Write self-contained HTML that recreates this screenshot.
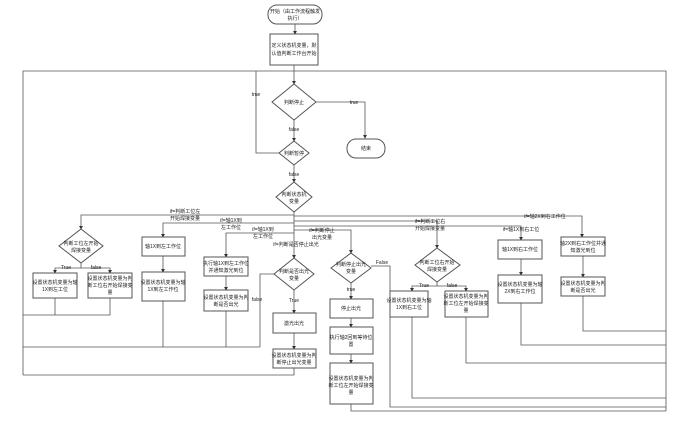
<!DOCTYPE html>
<html><head><meta charset="utf-8"><style>
html,body{margin:0;padding:0;background:#fff;}
svg{display:block;}
text{font-family:"Liberation Sans","Noto Sans CJK SC",sans-serif;font-size:5px;fill:#222;text-anchor:middle;}
.l{fill:none;stroke:#555;stroke-width:0.8;}
.b{fill:#fff;stroke:#555;stroke-width:1;}
</style></head><body>
<svg width="674" height="436" viewBox="0 0 674 436" xmlns="http://www.w3.org/2000/svg">
<defs><marker id="a" markerWidth="5" markerHeight="5" refX="4" refY="2.5" orient="auto"><path d="M0,0 L5,2.5 L0,5z" fill="#333"/></marker></defs>

<!-- top -->
<rect class="b" x="268" y="5" width="54" height="19" rx="9"/>
<text x="295" y="13">开始（由工作流程触发</text><text x="295" y="20">执行）</text>
<line class="l" x1="295" y1="24" x2="295" y2="34" marker-end="url(#a)"/>
<rect class="b" x="270" y="34" width="48" height="31"/>
<text x="294" y="47">定义状态机变量，默</text><text x="294" y="55">认值判断工作台开始</text>
<line class="l" x1="294" y1="65" x2="294" y2="84" marker-end="url(#a)"/>
<polyline class="l" points="23,375 23,71 666,71 666,411"/>
<polyline class="l" points="294,153 256,153 256,71"/>
<text x="256" y="96">true</text>
<polygon class="b" points="294,84 316,102 294,120 272,102"/>
<text x="294" y="104">判断停止</text>
<polyline class="l" points="316,102 365,102 365,138" marker-end="url(#a)"/>
<text x="354" y="104">true</text>
<rect class="b" x="347" y="139" width="38" height="19" rx="9"/>
<text x="366" y="150">结束</text>
<line class="l" x1="294" y1="120" x2="294" y2="141" marker-end="url(#a)"/>
<text x="294" y="131">false</text>
<polygon class="b" points="294,141 309,153 294,165 279,153"/>
<text x="294" y="155">判断暂停</text>
<line class="l" x1="294" y1="165" x2="294" y2="182" marker-end="url(#a)"/>
<text x="294" y="176">false</text>
<polygon class="b" points="294,182 312,197 294,212 276,197"/>
<text x="294" y="196">判断状态机</text><text x="294" y="203">变量</text>
<line class="l" x1="294" y1="212" x2="294" y2="258" marker-end="url(#a)"/>

<!-- branches -->
<polyline class="l" points="294,215 81,215 81,229" marker-end="url(#a)"/>
<text x="185" y="213">if=判断工位左</text><text x="185" y="220">开始焊接变量</text>
<polyline class="l" points="294,223 163,223 163,237" marker-end="url(#a)"/>
<text x="231" y="222">if=轴1X到</text><text x="231" y="229">左工作位</text>
<polyline class="l" points="294,233 226,233 226,257" marker-end="url(#a)"/>
<text x="263" y="231">if=轴1X到</text><text x="263" y="238">左工作位</text>
<text x="296" y="246">if=判断是否停止出光</text>
<polyline class="l" points="294,216 582,216 582,237" marker-end="url(#a)"/>
<text x="545" y="218">if=轴2X到右工作位</text>
<polyline class="l" points="294,221 437,221 437,248" marker-end="url(#a)"/>
<text x="430" y="223">if=判断工位右</text><text x="430" y="230">开始焊接变量</text>
<polyline class="l" points="294,230 351,230 351,253" marker-end="url(#a)"/>
<text x="322" y="232">if=判断停止</text><text x="322" y="239">出光变量</text>
<polyline class="l" points="294,226 521,226 521,240" marker-end="url(#a)"/>
<text x="521" y="231">if=轴1X到右工位</text>

<!-- left group -->
<polygon class="b" points="81,229 103,246 81,263 59,246"/>
<text x="81" y="245">判断工位左开始</text><text x="81" y="252">焊接变量</text>
<polyline class="l" points="81,263 81,268 55,268 55,273" marker-end="url(#a)"/>
<polyline class="l" points="81,268 110,268 110,273" marker-end="url(#a)"/>
<text x="66" y="269">True</text><text x="96" y="269">false</text>
<rect class="b" x="33" y="273" width="44" height="25"/>
<text x="55" y="284">设置状态机变量为轴</text><text x="55" y="291">1X到左工位</text>
<rect class="b" x="88" y="273" width="44" height="25"/>
<text x="110" y="280">设置状态机变量为判</text><text x="110" y="287">断工位右开始焊接变</text><text x="110" y="294">量</text>
<polyline class="l" points="55,298 55,315"/>
<polyline class="l" points="23,315 110,315 110,298"/>

<rect class="b" x="142" y="237" width="43" height="19"/>
<text x="163" y="248">轴1X到左工作位</text>
<line class="l" x1="163" y1="256" x2="163" y2="272" marker-end="url(#a)"/>
<rect class="b" x="142" y="272" width="43" height="29"/>
<text x="163" y="284">设置状态机变量为轴</text><text x="163" y="291">1X到左工作位</text>
<line class="l" x1="163" y1="301" x2="163" y2="347"/>

<rect class="b" x="204" y="257" width="44" height="19"/>
<text x="226" y="265">执行轴1X到左工作位</text><text x="226" y="272">并通知激光到位</text>
<line class="l" x1="226" y1="276" x2="226" y2="290" marker-end="url(#a)"/>
<rect class="b" x="204" y="290" width="44" height="21"/>
<text x="226" y="299">设置状态机变量为判</text><text x="226" y="306">断是否出光</text>
<line class="l" x1="226" y1="311" x2="226" y2="347"/>

<polygon class="b" points="294,258 314,274 294,290 274,274"/>
<text x="294" y="273">判断是否出光</text><text x="294" y="280">变量</text>
<polyline class="l" points="274,274 260,274 260,347"/>
<text x="257" y="301">false</text>
<polyline class="l" points="23,347 260,347"/>
<line class="l" x1="294" y1="290" x2="294" y2="313" marker-end="url(#a)"/>
<text x="294" y="302">True</text>
<rect class="b" x="273" y="313" width="43" height="20"/>
<text x="294" y="325">激光出光</text>
<line class="l" x1="294" y1="333" x2="294" y2="349" marker-end="url(#a)"/>
<rect class="b" x="273" y="349" width="43" height="19"/>
<text x="294" y="357">设置状态机变量为判</text><text x="294" y="364">断停止出光变量</text>
<polyline class="l" points="294,368 294,375 23,375"/>

<!-- right group -->
<polygon class="b" points="351,253 371,268 351,283 331,268"/>
<text x="351" y="266">判断停止出光</text><text x="351" y="273">变量</text>
<polyline class="l" points="371,266 390,266 390,407 666,407"/>
<text x="382" y="264">False</text>
<line class="l" x1="351" y1="283" x2="351" y2="299" marker-end="url(#a)"/>
<text x="351" y="291">true</text>
<rect class="b" x="330" y="299" width="43" height="19"/>
<text x="351" y="310">停止出光</text>
<line class="l" x1="351" y1="318" x2="351" y2="327" marker-end="url(#a)"/>
<rect class="b" x="330" y="327" width="43" height="27"/>
<text x="351" y="339">执行轴2回到等待位</text><text x="351" y="346">置</text>
<line class="l" x1="351" y1="354" x2="351" y2="363" marker-end="url(#a)"/>
<rect class="b" x="330" y="363" width="43" height="41"/>
<text x="351" y="380">设置状态机变量为判</text><text x="351" y="387">断工位左开始焊接变</text><text x="351" y="394">量</text>
<polyline class="l" points="351,404 351,411 666,411"/>

<polygon class="b" points="437,248 460,265 437,282 415,265"/>
<text x="437" y="264">判断工位右开始</text><text x="437" y="271">焊接变量</text>
<polyline class="l" points="437,282 437,286 412,286 412,291" marker-end="url(#a)"/>
<polyline class="l" points="437,286 466,286 466,291" marker-end="url(#a)"/>
<text x="424" y="287">True</text><text x="452" y="287">false</text>
<rect class="b" x="390" y="291" width="38" height="26"/>
<text x="409" y="302">设置状态机变量为轴</text><text x="409" y="309">1X到右工位</text>
<rect class="b" x="445" y="291" width="43" height="26"/>
<text x="466" y="298">设置状态机变量为判</text><text x="466" y="305">断工位左开始焊接变</text><text x="466" y="312">量</text>
<polyline class="l" points="412,317 412,398 666,398"/>
<polyline class="l" points="466,317 466,363 666,363"/>

<rect class="b" x="498" y="240" width="44" height="19"/>
<text x="520" y="251">轴1X到右工作位</text>
<line class="l" x1="521" y1="259" x2="521" y2="275" marker-end="url(#a)"/>
<rect class="b" x="498" y="275" width="44" height="28"/>
<text x="520" y="286">设置状态机变量为轴</text><text x="520" y="293">2X到右工作位</text>
<polyline class="l" points="521,303 521,345 666,345"/>

<rect class="b" x="561" y="237" width="44" height="19"/>
<text x="583" y="245">轴2X到右工作位并通</text><text x="583" y="252">知激光到位</text>
<line class="l" x1="583" y1="256" x2="583" y2="277" marker-end="url(#a)"/>
<rect class="b" x="561" y="277" width="44" height="19"/>
<text x="583" y="285">设置状态机变量为判</text><text x="583" y="292">断是否出光</text>
<polyline class="l" points="583,296 583,331 666,331"/>
</svg>
</body></html>
